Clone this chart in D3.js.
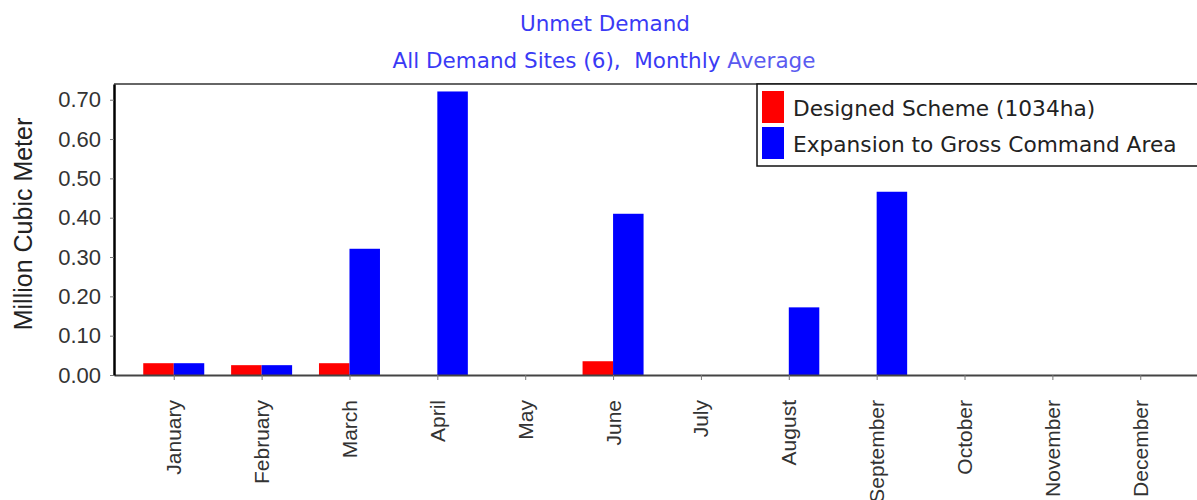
<!DOCTYPE html>
<html>
<head>
<meta charset="utf-8">
<script src="https://cdn.jsdelivr.net/npm/d3@7"></script>
<style>
    body { margin: 0; background: #fff; }
    .graph svg { display: block; }
</style>
</head>
<body>
<div class="graph"></div>
<script>
// Chart data
const months = ["January", "February", "March", "April", "May", "June",
    "July", "August", "September", "October", "November", "December"];
const seriesNames = ["Designed Scheme (1034ha)", "Expansion to Gross Command Area"];
const designedScheme = [0.030, 0.025, 0.030, 0, 0, 0.035, 0, 0, 0, 0, 0, 0];
const grossCommand = [0.030, 0.025, 0.321, 0.721, 0, 0.410, 0, 0.172, 0.466, 0, 0, 0];
const yTicks = [0, 0.1, 0.2, 0.3, 0.4, 0.5, 0.6, 0.7];

const titleText = "Unmet Demand";
const subtitleText = "All Demand Sites (6),  Monthly ";
const subtitleTail = "Average";
const yLabel = "Million Cubic Meter";

function createBarGraph() {
    // The dimensions of the graph
    const dimensions = {
        width: 1197,
        height: 500,
        margins: {
            top: 84,
            right: -3,
            bottom: 125,
            left: 114
        },
        barWidth: 30.5
    }
    dimensions.boundedWidth = dimensions.width
        - dimensions.margins.left
        - dimensions.margins.right;
    dimensions.boundedHeight = dimensions.height
        - dimensions.margins.top
        - dimensions.margins.bottom;

    const colors = ["#ff0000", "#0000ff"];

    const data = months.map((m, i) => ({
        month: m,
        values: [designedScheme[i], grossCommand[i]]
    }));

    const wrapper = d3.select(".graph")
        .append("svg")
            .attr("width", dimensions.width)
            .attr("height", dimensions.height);

    const bounds = wrapper.append("g")
            .attr("transform", `translate(${dimensions.margins.left},${dimensions.margins.top})`);

    // Scales
    const xScale = d3.scalePoint()
        .domain(months)
        .range([0, dimensions.boundedWidth])
        .padding(0.68);

    const seriesScale = d3.scaleBand()
        .domain([0, 1])
        .range([-dimensions.barWidth, dimensions.barWidth]);

    const yScale = d3.scaleLinear()
        .domain([0, 0.74])
        .range([dimensions.boundedHeight, 0]);

    // Top border of the plot
    bounds.append("line")
        .attr("x1", 0)
        .attr("x2", dimensions.boundedWidth)
        .attr("y1", 0)
        .attr("y2", 0)
        .attr("stroke", "#333")
        .attr("stroke-width", 1.5);

    // Draw bars
    const groups = bounds.append("g")
        .selectAll("g")
        .data(data)
        .join("g")
            .attr("transform", d => `translate(${xScale(d.month)},0)`);

    groups.selectAll("rect")
        .data(d => d.values.map((v, i) => ({ key: i, value: v })))
        .join("rect")
            .attr("x", d => seriesScale(d.key))
            .attr("width", seriesScale.bandwidth())
            .attr("y", d => yScale(d.value))
            .attr("height", d => dimensions.boundedHeight - yScale(d.value))
            .attr("fill", d => colors[d.key]);

    // Axes
    const xAxisGenerator = d3.axisBottom(xScale)
        .tickSizeInner(5)
        .tickSizeOuter(0);

    const xAxis = bounds.append("g")
        .attr("transform", `translate(0,${dimensions.boundedHeight})`)
        .call(xAxisGenerator);
    xAxis.select(".domain")
        .attr("stroke", "#444")
        .attr("stroke-width", 2);
    xAxis.selectAll(".tick line").attr("stroke", "#777");
    xAxis.selectAll("text")
        .attr("transform", "rotate(-90)")
        .attr("x", -25)
        .attr("y", 0)
        .attr("dy", "0.33em")
        .style("text-anchor", "end")
        .style("font-family", "'Liberation Sans', Arial, sans-serif")
        .style("font-size", "21px")
        .attr("fill", "#333");

    const yAxisGenerator = d3.axisLeft(yScale)
        .tickValues(yTicks)
        .tickFormat(d3.format(".2f"))
        .tickSizeInner(4)
        .tickSizeOuter(0)
        .tickPadding(9);

    const yAxis = bounds.append("g")
        .call(yAxisGenerator);
    yAxis.select(".domain")
        .attr("stroke", "#000")
        .attr("stroke-width", 2.5);
    yAxis.selectAll(".tick line").attr("stroke", "#777");
    yAxis.selectAll("text")
        .style("font-family", "'Liberation Sans', Arial, sans-serif")
        .style("font-size", "22px")
        .attr("fill", "#333");

    // Y axis title
    wrapper.append("text")
        .attr("transform", `translate(23,224) rotate(-90)`)
        .attr("dy", "0.35em")
        .attr("text-anchor", "middle")
        .style("font-family", "'Liberation Sans', Arial, sans-serif")
        .style("font-size", "25px")
        .attr("fill", "#222")
        .text(yLabel);

    // Titles
    wrapper.append("text")
        .attr("x", 605)
        .attr("y", 31)
        .attr("text-anchor", "middle")
        .style("font-family", "'DejaVu Sans', sans-serif")
        .style("font-size", "21.5px")
        .attr("fill", "#3a3af5")
        .text(titleText);

    const sub = wrapper.append("text")
        .attr("x", 604)
        .attr("y", 68)
        .attr("text-anchor", "middle")
        .style("font-family", "'DejaVu Sans', sans-serif")
        .style("font-size", "21.5px")
        .style("white-space", "pre")
        .attr("fill", "#3a3af5");
    sub.append("tspan").text(subtitleText);
    sub.append("tspan").attr("fill", "#5a5af0").text(subtitleTail);

    // Legend
    const legend = wrapper.append("g")
        .attr("transform", "translate(757,84)");
    legend.append("rect")
        .attr("width", 450)
        .attr("height", 82)
        .attr("fill", "#fff")
        .attr("stroke", "#111")
        .attr("stroke-width", 1.5);

    const items = legend.selectAll("g")
        .data(seriesNames)
        .join("g")
            .attr("transform", (d, i) => `translate(5,${7 + i * 36})`);
    items.append("rect")
        .attr("width", 22)
        .attr("height", 32)
        .attr("fill", (d, i) => colors[i]);
    items.append("text")
        .attr("x", 31)
        .attr("y", 25)
        .style("font-family", "'DejaVu Sans', sans-serif")
        .style("font-size", "21.7px")
        .attr("fill", "#222")
        .text(d => d);
}

createBarGraph();
</script>
</body>
</html>
